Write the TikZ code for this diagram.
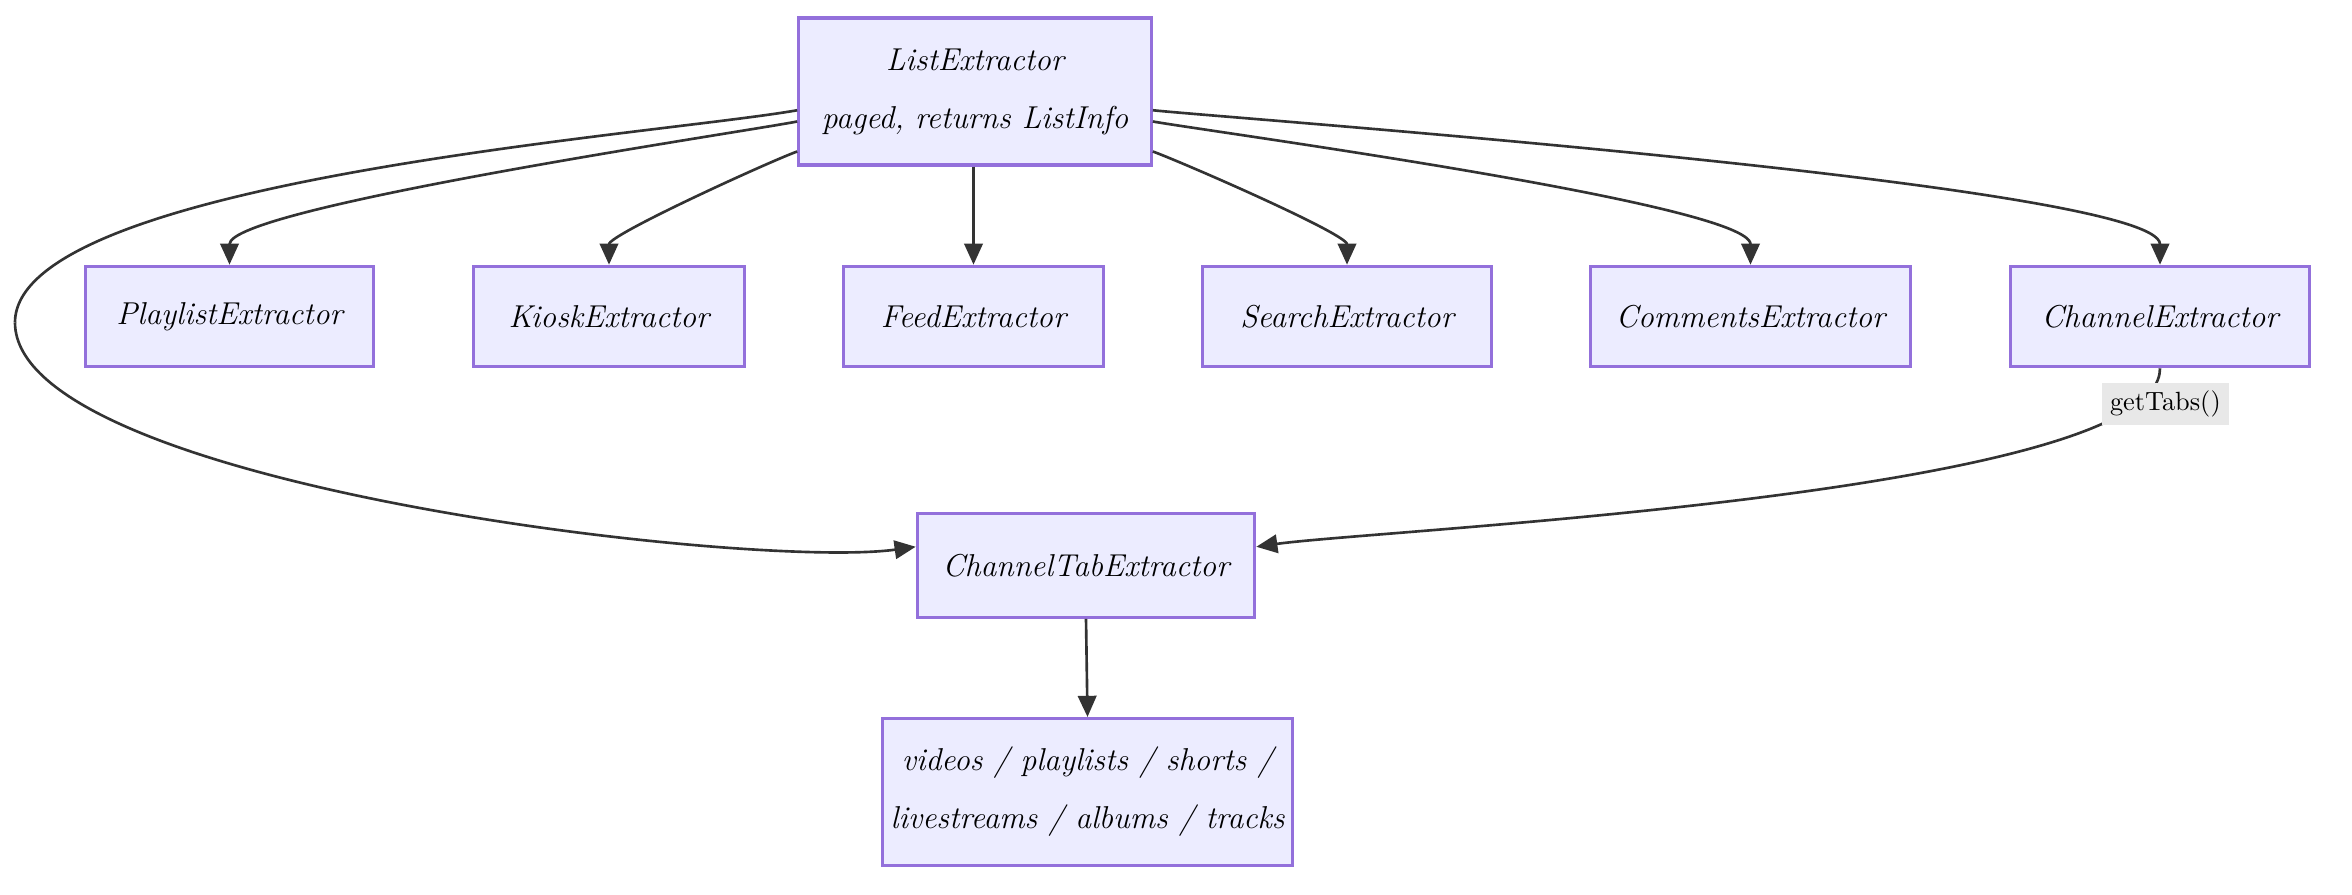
\documentclass[tikz,border=0pt]{standalone}
\usetikzlibrary{arrows.meta}
\definecolor{boxfill}{HTML}{ECECFF}
\definecolor{boxline}{HTML}{9370DB}
\definecolor{edge}{HTML}{333333}
\definecolor{lblbg}{HTML}{E8E8E8}
\begin{document}
\begin{tikzpicture}[x=0.02cm,y=-0.02cm,
  box/.style={draw=boxline,fill=boxfill,line width=1.2pt,font=\itshape\large,align=center,inner sep=0pt},
  arr/.style={draw=edge,line width=1pt,-{Triangle[length=8pt,width=7pt]}},
  lbl/.style={fill=lblbg,font=\normalsize,inner sep=3pt}]
\useasboundingbox (0,0) rectangle (1568,596);
\node[box,minimum width=235*0.02cm,minimum height=98*0.02cm] (L) at (650,61) {ListExtractor\\[8pt]paged, returns ListInfo};
\node[box,minimum width=192*0.02cm,minimum height=67*0.02cm] (P) at (153,211) {PlaylistExtractor};
\node[box,minimum width=181*0.02cm,minimum height=67*0.02cm] (K) at (406,211) {KioskExtractor};
\node[box,minimum width=173*0.02cm,minimum height=67*0.02cm] (F) at (649,211) {FeedExtractor};
\node[box,minimum width=193*0.02cm,minimum height=67*0.02cm] (S) at (898,211) {SearchExtractor};
\node[box,minimum width=213*0.02cm,minimum height=67*0.02cm] (Co) at (1167,211) {CommentsExtractor};
\node[box,minimum width=199*0.02cm,minimum height=67*0.02cm] (C) at (1440,211) {ChannelExtractor};
\node[box,minimum width=225*0.02cm,minimum height=69*0.02cm] (T) at (724,377) {ChannelTabExtractor};
\node[box,minimum width=273*0.02cm,minimum height=98*0.02cm] (V) at (725,528) {videos / playlists / shorts /\\[8pt]livestreams / albums / tracks};
\coordinate (c1) at (10,215);
\draw[arr] ([yshift=-0.4cm]L.west) to[out=191,in=90,looseness=0.25] (P.north);
\draw[arr] ([yshift=-0.8cm]L.west) to[out=200,in=90,looseness=0.35] (K.north);
\draw[arr] (F.north |- L.south) -- (F.north);
\draw[arr] ([yshift=-0.8cm]L.east) to[out=-20,in=90,looseness=0.35] (S.north);
\draw[arr] ([yshift=-0.4cm]L.east) to[out=-10,in=90,looseness=0.25] (Co.north);
\draw[arr] ([yshift=-0.25cm]L.east) to[out=-6,in=90,looseness=0.2] (C.north);
\draw[draw=edge,line width=1pt] ([yshift=-0.25cm]L.west) to[out=190,in=90,looseness=0.45] (c1);
\draw[arr] (c1) to[out=-90,in=188,looseness=0.45] ([yshift=0.25cm]T.west);
\draw[arr] (C.south) to[out=-90,in=8,looseness=0.35] node[pos=0.08,lbl,anchor=west,xshift=-0.6cm,yshift=-0.1cm] {getTabs()} ([yshift=0.25cm]T.east);
\draw[arr] (T.south) -- (V.north);
\end{tikzpicture}
\end{document}
